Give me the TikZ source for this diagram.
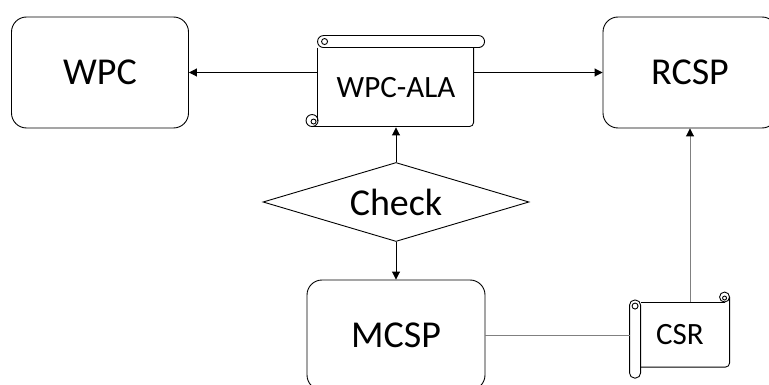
\documentclass[tikz,border=0pt]{standalone}
\usepackage{fontspec}
\setmainfont{Carlito}
\usepackage{tikz}
\usetikzlibrary{arrows.meta,shapes.geometric}

\begin{document}
\begin{tikzpicture}[->,>={Triangle[length=8pt,width=8pt]},x=1pt,y=-1pt,line width=0.9pt]

    \tikzstyle{block}=[draw=black,rounded corners=15pt,minimum width=177pt,minimum height=111pt,font=\fontsize{38pt}{42pt}\selectfont]
    \tikzstyle{scrollbox}=[inner sep=0pt,font=\fontsize{31pt}{35pt}\selectfont]

    \useasboundingbox (0,0) rectangle (769,385);

    \node[block]      (wpc)    at (100,72.5)  {WPC};
    \node[scrollbox, minimum width=156pt, minimum height=79pt] (wpcala) [right of=wpc, node distance=296pt, yshift=-15pt] {WPC-ALA};
    \node[block, minimum width=174pt] (rcsp) [right of=wpc, node distance=590pt] {RCSP};
    \node[diamond, draw=black, aspect=3.37, inner sep=0pt, minimum width=266pt, minimum height=79pt,
          font=\fontsize{38pt}{42pt}\selectfont] (check) [below of=wpcala, node distance=114.5pt] {Check};
    \node[block, minimum width=178pt, minimum height=110pt] (mcsp) [below of=check, node distance=133pt] {MCSP};
    \node[scrollbox, minimum width=100pt, minimum height=65pt] (csr) [right of=mcsp, node distance=284pt] {CSR};

    % horizontal scroll
    \begin{scope}[-, shift={(wpcala.north west)}]
      \draw[rounded corners=6pt] (0,-12) rectangle (167,0);
      \draw (7,-6) circle (3);
      \draw (0,0) -- (0,73);
      \draw (-5.5,73) circle (6);
      \draw (-4,74) circle (2.5);
      \draw[rounded corners=4pt] (-5.5,79) -- (156,79) -- (156,0);
    \end{scope}

    % vertical scroll
    \begin{scope}[-, shift={(csr.north west)}]
      \draw[rounded corners=5pt] (0,-2) rectangle (11,76);
      \draw (5.5,4) circle (3);
      \draw (11,0) -- (95,0);
      \draw (95,-5) circle (5);
      \draw (95,-4) circle (2);
      \draw[rounded corners=4pt] (100,-5) -- (100,65) -- (11,65);
    \end{scope}

    \draw (wpcala.west |- wpc.east) -- (wpc.east);
    \draw (wpcala.east |- rcsp.west) -- (rcsp.west);
    \draw (check.north) -- (wpcala.south);
    \draw (check.south) -- (mcsp.north);
    \draw[-, gray] (mcsp.east) -- (csr.west);
    \draw[gray, -{Triangle[length=8pt,width=8pt,black]}] (rcsp.south |- csr.north) -- (rcsp.south);

\end{tikzpicture}
\end{document}
